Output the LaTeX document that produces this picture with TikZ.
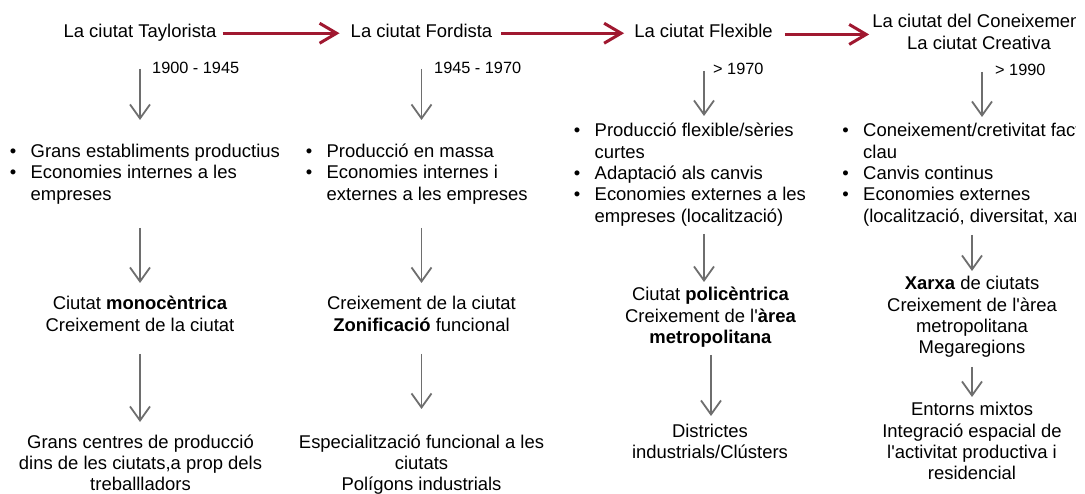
\documentclass[tikz,border=0pt]{standalone}
\usepackage{fontspec}
\setmainfont{Liberation Sans}[Ligatures=TeXOff]
\usetikzlibrary{arrows.meta}
\definecolor{redarr}{RGB}{160,24,48}
\definecolor{grayarr}{RGB}{110,110,110}
\newcommand{\mlc}[1]{\begin{tabular}[t]{@{}c@{}}#1\end{tabular}}
\newcommand{\blist}[1]{\begin{tabular}[t]{@{}c@{\hspace{17.5pt}}l@{}}#1\end{tabular}}
\newcommand{\bu}{\makebox[0pt]{\textbullet}}
\begin{document}
\begin{tikzpicture}[x=1pt,y=-1pt,
  txt/.style={font=\fontsize{18.45}{21.3}\selectfont, inner sep=0pt, anchor=base, text=black},
  lst/.style={txt, anchor=base west},
  yr/.style={font=\fontsize{16.3}{19}\selectfont, inner sep=0pt, anchor=base west, text=black},
  redline/.style={draw=redarr, line width=3pt, -{Straight Barb[length=17pt,width=20pt]}},
  grayline/.style={draw=grayarr, line width=1.8pt, -{Straight Barb[length=14pt,width=20pt]}}]
\fill[white] (0,0) rectangle (1085,494);
\useasboundingbox (0,0) rectangle (1085,494);
\clip (0,0) rectangle (1075,494);
% titles
\node[txt] (t1) at (140,37.5) {\mlc{La ciutat Taylorista}};
\node[txt] (t2) at (421.5,37.5) {\mlc{La ciutat Fordista}};
\node[txt] (t3) at (703.5,37.5) {\mlc{La ciutat Flexible}};
\node[txt] (t4) at (979,28) {\mlc{La ciutat del Coneixement\\La ciutat Creativa}};
% years
\node[yr] (y1) at (152,73.7) {1900 - 1945};
\node[yr] (y2) at (434,73.7) {1945 - 1970};
\node[yr] (y3) at (713,74.7) {> 1970};
\node[yr] (y4) at (995,75.8) {> 1990};
% bullet lists
\node[lst] (b1) at (13,157.5) {\blist{\bu & Grans establiments productius\\ \bu & Economies internes a les\\ & empreses}};
\node[lst] (b2) at (309,157.5) {\blist{\bu & Producció en massa\\ \bu & Economies internes i\\ & externes a les empreses}};
\node[lst] (b3) at (577,137) {\blist{\bu & Producció flexible/sèries\\ & curtes\\ \bu & Adaptació als canvis\\ \bu & Economies externes a les\\ & empreses (localització)}};
\node[lst] (b4) at (845.5,137) {\blist{\bu & Coneixement/cretivitat factor\\ & clau\\ \bu & Canvis continus\\ \bu & Economies externes\\ & (localització, diversitat, xarxa)}};
% middle
\node[txt] (m1) at (140,310) {\mlc{Ciutat \textbf{monocèntrica}\\Creixement de la ciutat}};
\node[txt] (m2) at (421.5,310) {\mlc{Creixement de la ciutat\\\textbf{Zonificació} funcional}};
\node[txt] (m3) at (710.5,301) {\mlc{Ciutat \textbf{policèntrica}\\Creixement de l'\textbf{àrea}\\\textbf{metropolitana}}};
\node[txt] (m4) at (972,290) {\mlc{\textbf{Xarxa} de ciutats\\Creixement de l'àrea\\metropolitana\\Megaregions}};
% bottom
\node[txt] (e1) at (140.5,448) {\mlc{Grans centres de producció\\dins de les ciutats,a prop dels\\treballladors}};
\node[txt] (e2) at (421.5,448) {\mlc{Especialització funcional a les\\ciutats\\Polígons industrials}};
\node[txt] (e3) at (710,437) {\mlc{Districtes\\industrials/Clústers}};
\node[txt] (e4) at (972,416) {\mlc{Entorns mixtos\\Integració espacial de\\l'activitat productiva i\\residencial}};
% red arrows
\draw[redline, shorten <=6pt, shorten >=11pt] (t1.east) -- (t1.east -| t2.west);
\draw[redline, shorten <=9pt, shorten >=10pt] (t2.east) -- (t2.east -| t3.west);
\draw[redline, shorten <=12pt, shorten >=3pt] ([yshift=-1.2pt]t3.east) -- ([yshift=-1.2pt]t3.east -| t4.west);
% gray arrows column 1
\draw[grayline] (t1.base) ++(0,31.5) -- ++(0,51);
\draw[grayline] (m1.base) ++(0,-82) -- ++(0,55);
\draw[grayline] (m1.base) ++(0,44) -- ++(0,68);
% column 2
\draw[grayline] (t2.base) ++(0,31.5) -- ++(0,51);
\draw[grayline] (m2.base) ++(0,-82) -- ++(0,55);
\draw[grayline] (m2.base) ++(0,44) -- ++(0,55);
% column 3
\draw[grayline] (t3.base) ++(0.5,33.5) -- ++(0,45);
\draw[grayline] (m3.base) ++(-6.5,-67) -- ++(0,48);
\draw[grayline] (m3.base) ++(0.5,54) -- ++(0,61);
% column 4
\draw[grayline] (t4.base) ++(3,44) -- ++(0,45);
\draw[grayline] (m4.base) ++(0,-55) -- ++(0,36);
\draw[grayline] (m4.base) ++(0,77) -- ++(0,30);
\end{tikzpicture}
\end{document}
